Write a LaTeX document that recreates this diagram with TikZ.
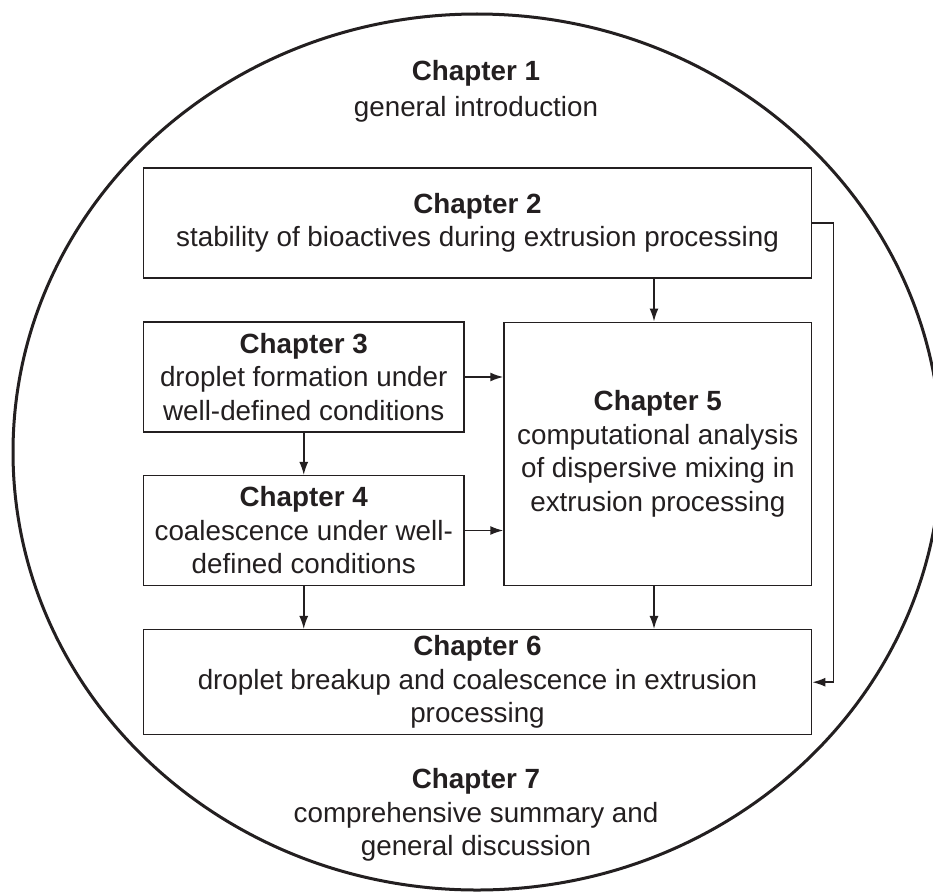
\documentclass[tikz,border=0pt]{standalone}
\usepackage{fontspec}
\setmainfont{Liberation Sans}
\usetikzlibrary{arrows.meta}
\definecolor{ink}{HTML}{231F20}
\tikzset{
  box/.style={draw=ink, line width=1.5pt, inner sep=0pt, align=center, text=ink,
    font=\fontsize{27.8}{33.5}\selectfont},
  txt/.style={inner sep=0pt, align=center, text=ink, font=\fontsize{27.8}{33.5}\selectfont},
  arr/.style={draw=ink, line width=1.5pt, -{Latex[length=13pt,width=9pt]}}
}
\begin{document}
\begin{tikzpicture}[x=1pt,y=-1pt]
\useasboundingbox (0,0) rectangle (933,891);
\clip (0,0) rectangle (933,891);
\fill[white] (0,0) rectangle (933,891);
\draw[ink, line width=3pt] (477,452) ellipse [x radius=464, y radius=438];

\node[txt, font=\fontsize{27.8}{36}\selectfont] (c1) at (476,91) {\textbf{Chapter 1}\\general introduction};
\node[box, minimum width=668.2pt, minimum height=109.7pt] (ch2) at (477.5,223)
  {\textbf{Chapter 2}\\stability of bioactives during extrusion processing};
\node[box, minimum width=320.7pt, minimum height=109.7pt] (ch3) at (303.75,377)
  {\textbf{Chapter 3}\\droplet formation under\\well-defined conditions};
\node[box, minimum width=320.7pt, minimum height=109.7pt] (ch4) at (303.75,530.5)
  {\textbf{Chapter 4}\\coalescence under well-\\defined conditions};
\node[box, minimum width=307.6pt, minimum height=263pt] (ch5) at (657.8,453.75)
  {\textbf{Chapter 5}\\computational analysis\\of dispersive mixing in\\extrusion processing};
\node[box, minimum width=668.2pt, minimum height=105pt] (ch6) at (477.5,682.2)
  {\textbf{Chapter 6}\\droplet breakup and coalescence in extrusion\\processing};
\node[txt] (c7) at (476,815) {\textbf{Chapter 7}\\comprehensive summary and\\general discussion};

\coordinate (ax) at (654,0);
\coordinate (rx) at (833.5,0);
\draw[arr] (ch2.south -| ax) -- (ch5.north -| ax);
\draw[arr] (ch3.east) -- (ch3.east -| ch5.west);
\draw[arr] (ch4.east) -- (ch4.east -| ch5.west);
\draw[arr] (ch3.south) -- (ch4.north);
\draw[arr] (ch4.south) -- (ch4.south |- ch6.north);
\draw[arr] (ch5.south -| ax) -- (ch6.north -| ax);
\draw[arr] (ch2.east) -- (ch2.east -| rx) -- (ch6.east -| rx) -- (ch6.east);
\end{tikzpicture}
\end{document}
